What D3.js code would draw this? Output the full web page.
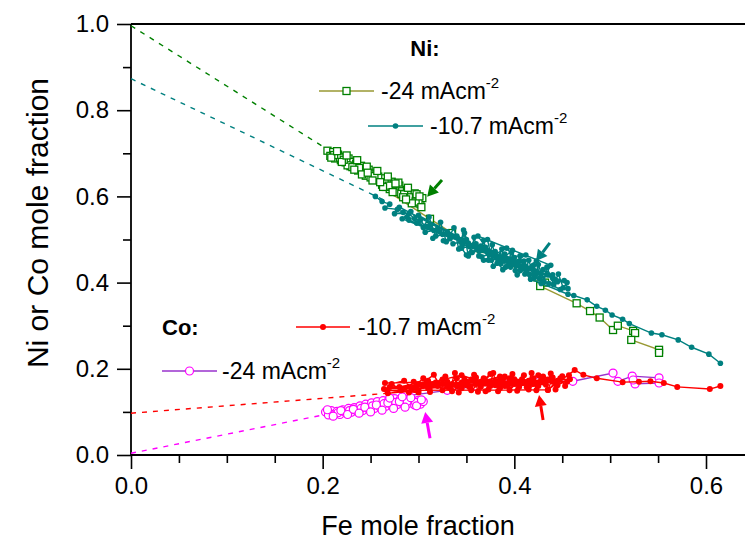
<!DOCTYPE html>
<html>
<head>
<meta charset="utf-8">
<script src="https://cdn.jsdelivr.net/npm/d3@7"></script>
<style>
  html, body { margin: 0; padding: 0; background: #fff; }
  svg { display: block; font-family: "Liberation Sans", Arial, sans-serif; }
</style>
</head>
<body>
<svg id="chart" width="745" height="542"></svg>
<script>
// Ni fraction vs Fe fraction, -24 mA/cm2 (green squares)
const ni24 = [
  [0.205,0.706],[0.208,0.694],[0.211,0.703],[0.213,0.688],[0.216,0.697],[0.219,0.684],[0.221,0.692],
  [0.224,0.679],[0.227,0.688],[0.229,0.670],[0.232,0.680],[0.235,0.676],[0.237,0.660],[0.240,0.671],
  [0.243,0.664],[0.245,0.648],[0.248,0.662],[0.251,0.653],[0.253,0.638],[0.256,0.652],[0.259,0.640],
  [0.262,0.627],[0.264,0.642],[0.267,0.632],[0.270,0.617],[0.272,0.634],[0.275,0.622],[0.278,0.610],
  [0.280,0.625],[0.283,0.612],[0.286,0.600],[0.288,0.615],[0.291,0.603],[0.294,0.590],[0.296,0.607],
  [0.299,0.594],[0.302,0.582],[0.304,0.596],[0.300,0.586],[0.290,0.598],[0.282,0.606],[0.274,0.628],
  [0.266,0.622],[0.258,0.646],[0.250,0.644],[0.242,0.657],[0.234,0.670],[0.226,0.672],[0.218,0.690],
  [0.212,0.696],[0.222,0.685],[0.238,0.666],[0.254,0.647],[0.269,0.625],[0.285,0.605],[0.297,0.588],
  [0.209,0.690],[0.215,0.705],[0.220,0.680],[0.225,0.695],[0.231,0.668],[0.236,0.684],[0.241,0.651],
  [0.246,0.669],[0.252,0.637],[0.257,0.659],[0.263,0.622],[0.268,0.646],[0.273,0.610],[0.279,0.632],
  [0.284,0.598],[0.289,0.620],[0.293,0.584],[0.298,0.605],[0.303,0.575],[0.301,0.600],[0.287,0.593],
  [0.276,0.630],[0.260,0.633],[0.247,0.655],[0.233,0.662],
  [0.312,0.548],[0.335,0.515],[0.365,0.478],[0.398,0.445],[0.424,0.412],[0.432,0.400],[0.427,0.392],
  [0.465,0.352],[0.479,0.334],[0.489,0.319],[0.503,0.290],[0.508,0.300],[0.524,0.288],[0.526,0.283],
  [0.522,0.267],[0.551,0.244],[0.551,0.237]
];

// Ni fraction vs Fe fraction, -10.7 mA/cm2 (teal dots)
const ni107 = [
  [0.255,0.600],[0.262,0.588],[0.270,0.582],[0.265,0.573],[0.278,0.570],[0.284,0.563],[0.275,0.560],
  [0.290,0.560],[0.296,0.548],[0.288,0.552],[0.302,0.545],[0.307,0.530],[0.298,0.538],[0.312,0.534],
  [0.316,0.521],[0.307,0.517],[0.320,0.525],[0.325,0.512],[0.315,0.503],[0.330,0.518],[0.333,0.502],
  [0.326,0.497],[0.340,0.508],[0.344,0.494],[0.336,0.490],[0.350,0.500],[0.353,0.484],[0.345,0.480],
  [0.350,0.464],[0.360,0.490],[0.364,0.474],[0.356,0.470],[0.370,0.482],[0.374,0.466],[0.366,0.460],
  [0.380,0.472],[0.384,0.456],[0.376,0.452],[0.390,0.466],[0.394,0.448],[0.386,0.444],[0.400,0.458],
  [0.404,0.440],[0.396,0.436],[0.410,0.450],[0.414,0.432],[0.406,0.428],[0.420,0.440],[0.424,0.422],
  [0.416,0.418],[0.430,0.430],[0.435,0.418],[0.426,0.410],[0.440,0.418],[0.445,0.402],[0.436,0.398],
  [0.452,0.405],[0.456,0.386],[0.448,0.384],[0.280,0.575],[0.340,0.505],[0.300,0.556],[0.372,0.470],
  [0.322,0.518],[0.398,0.452],[0.346,0.488],[0.428,0.420],[0.362,0.478],[0.410,0.440],[0.385,0.460],
  [0.442,0.408],[0.392,0.455],[0.352,0.492],[0.418,0.432],[0.378,0.462],[0.332,0.510],[0.402,0.445],
  [0.283,0.548],[0.292,0.565],[0.305,0.528],[0.311,0.552],[0.318,0.508],[0.323,0.540],[0.329,0.495],
  [0.337,0.527],[0.342,0.478],[0.348,0.515],[0.355,0.470],[0.358,0.505],[0.363,0.462],[0.368,0.498],
  [0.373,0.452],[0.377,0.488],[0.382,0.445],[0.387,0.478],[0.391,0.436],[0.397,0.470],[0.401,0.428],
  [0.406,0.462],[0.411,0.420],[0.415,0.452],[0.421,0.412],[0.425,0.442],[0.431,0.402],[0.434,0.436],
  [0.441,0.395],[0.446,0.420],[0.451,0.388],[0.455,0.400],[0.290,0.545],[0.360,0.482],[0.310,0.528],
  [0.380,0.465],[0.330,0.512],[0.400,0.446],[0.350,0.494],[0.420,0.428],[0.370,0.476],[0.440,0.410],
  [0.390,0.456],[0.412,0.438],[0.395,0.442],[0.358,0.488],[0.375,0.470],[0.405,0.450],[0.365,0.485],
  [0.385,0.452],[0.422,0.418],[0.345,0.500],[0.347,0.522],[0.352,0.462],[0.372,0.500],[0.378,0.438],
  [0.398,0.475],[0.403,0.418],[0.423,0.450],[0.428,0.398],[0.438,0.440],[0.362,0.508],[0.388,0.430],
  [0.412,0.464],[0.368,0.452],[0.392,0.480],[0.417,0.408],
  [0.456,0.373],[0.462,0.370],[0.476,0.360],[0.486,0.345],[0.495,0.336],[0.502,0.325],[0.513,0.315],
  [0.520,0.305],[0.543,0.283],[0.554,0.279],[0.571,0.267],[0.585,0.250],[0.603,0.234],[0.615,0.213]
];

// Co fraction vs Fe fraction, -24 mA/cm2 (magenta circles)
const co24 = [
  [0.203,0.100],[0.206,0.093],[0.209,0.103],[0.212,0.095],[0.215,0.101],[0.218,0.094],[0.221,0.105],
  [0.224,0.098],[0.227,0.108],[0.230,0.099],[0.233,0.110],[0.236,0.101],[0.239,0.114],[0.242,0.103],
  [0.245,0.118],[0.248,0.106],[0.251,0.121],[0.254,0.108],[0.257,0.124],[0.260,0.111],[0.263,0.126],
  [0.266,0.113],[0.269,0.128],[0.272,0.115],[0.275,0.131],[0.278,0.117],[0.281,0.130],[0.284,0.119],
  [0.287,0.128],[0.290,0.120],[0.293,0.127],[0.296,0.116],[0.299,0.126],[0.302,0.118],[0.305,0.124],
  [0.297,0.122],[0.288,0.124],[0.276,0.122],[0.264,0.119],[0.252,0.114],[0.240,0.108],[0.228,0.103],
  [0.216,0.098],[0.205,0.105],[0.211,0.090],[0.219,0.103],[0.226,0.094],[0.232,0.106],[0.238,0.097],
  [0.244,0.111],[0.250,0.100],[0.256,0.116],[0.262,0.104],[0.268,0.121],[0.274,0.108],[0.280,0.124],
  [0.286,0.111],[0.292,0.133],[0.298,0.114],[0.303,0.128],[0.283,0.135],[0.270,0.132],
  [0.330,0.150],[0.360,0.160],[0.395,0.165],[0.425,0.170],[0.461,0.171],[0.503,0.190],
  [0.508,0.171],[0.523,0.183],[0.551,0.179],[0.551,0.167],[0.526,0.165],[0.524,0.174]
];

// Co fraction vs Fe fraction, -10.7 mA/cm2 (red dots)
const co107 = [
  [0.265,0.167],[0.330,0.170],[0.264,0.153],[0.320,0.160],[0.268,0.143],[0.300,0.150],[0.280,0.158],
  [0.310,0.172],[0.290,0.145],[0.316,0.186],[0.325,0.150],[0.340,0.178],[0.335,0.148],[0.350,0.170],
  [0.345,0.155],[0.360,0.180],[0.355,0.150],[0.375,0.188],[0.365,0.158],[0.380,0.172],[0.370,0.148],
  [0.390,0.182],[0.385,0.155],[0.400,0.176],[0.395,0.150],[0.410,0.185],[0.405,0.158],[0.420,0.178],
  [0.415,0.152],[0.430,0.182],[0.425,0.160],[0.440,0.180],[0.435,0.151],[0.450,0.183],[0.445,0.162],
  [0.458,0.176],[0.300,0.165],[0.340,0.160],[0.310,0.155],[0.360,0.165],[0.330,0.158],[0.380,0.162],
  [0.350,0.162],[0.400,0.165],[0.370,0.168],[0.420,0.165],[0.390,0.160],[0.440,0.170],[0.410,0.170],
  [0.430,0.168],[0.360,0.172],[0.395,0.170],[0.345,0.168],[0.375,0.160],[0.415,0.162],[0.325,0.165],
  [0.385,0.175],[0.298,0.160],[0.282,0.150],[0.272,0.165],[0.285,0.172],[0.293,0.155],[0.305,0.178],
  [0.312,0.146],[0.318,0.168],[0.328,0.182],[0.333,0.155],[0.338,0.190],[0.342,0.145],[0.348,0.176],
  [0.353,0.158],[0.358,0.186],[0.362,0.147],[0.368,0.178],[0.373,0.152],[0.378,0.190],[0.383,0.148],
  [0.388,0.174],[0.393,0.160],[0.398,0.188],[0.403,0.149],[0.408,0.176],[0.413,0.157],[0.418,0.190],
  [0.423,0.150],[0.428,0.175],[0.433,0.163],[0.438,0.189],[0.443,0.152],[0.448,0.178],[0.453,0.160],
  [0.457,0.185],[0.445,0.172],[0.425,0.185],[0.405,0.168],[0.385,0.182],[0.365,0.170],[0.345,0.185],
  [0.325,0.175],[0.305,0.160],[0.295,0.170],[0.315,0.165],[0.335,0.165],[0.355,0.175],[0.375,0.168],
  [0.395,0.178],[0.415,0.172],[0.435,0.175],[0.455,0.170],[0.270,0.158],[0.300,0.145],[0.267,0.150],
  [0.435,0.151],[0.463,0.197],[0.472,0.186],[0.486,0.178],[0.513,0.169],[0.530,0.170],[0.542,0.171],
  [0.556,0.167],[0.570,0.158],[0.604,0.153],[0.615,0.160]
];

// extrapolation lines (dashed), end points
const fitNi24 = [[0.0, 0.996], [0.21, 0.702]];
const fitNi107 = [[0.0, 0.873], [0.27, 0.585]];
const fitCo107 = [[0.0, 0.097], [0.267, 0.143]];
const fitCo24 = [[0.0, 0.004], [0.203, 0.094]];

// arrows [from, to] in data units
const arrowNi24 = [[0.3245, 0.638], [0.309, 0.599]];
const arrowNi107 = [[0.437, 0.492], [0.4226, 0.450]];
const arrowCo24 = [[0.312, 0.039], [0.307, 0.100]];
const arrowCo107 = [[0.430, 0.081], [0.4258, 0.139]];

const xMajor = [0, 0.2, 0.4, 0.6];
const xMinor = [0.05, 0.1, 0.15, 0.25, 0.3, 0.35, 0.45, 0.5, 0.55];
const yMajor = [0, 0.2, 0.4, 0.6, 0.8, 1.0];
const yMinor = [0.1, 0.3, 0.5, 0.7, 0.9];

const plotLeft = 131, plotRight = 745, plotTop = 24, plotBottom = 455;

const svg = d3.select('#chart');
const x = d3.scaleLinear().domain([0, 0.6]).range([plotLeft, 706]);
const y = d3.scaleLinear().domain([0, 1]).range([plotBottom, plotTop]);

const fmt = d3.format('.1f');
const FONT = '"Liberation Sans", Arial, sans-serif';

// axes
const xAxisMajor = svg.append('g')
  .attr('transform', `translate(0,${plotBottom})`)
  .call(d3.axisBottom(x).tickValues(xMajor).tickSize(14).tickPadding(8).tickFormat(fmt));
const xAxisMinor = svg.append('g')
  .attr('transform', `translate(0,${plotBottom})`)
  .call(d3.axisBottom(x).tickValues(xMinor).tickSize(8).tickFormat(''));
const yAxisMajor = svg.append('g')
  .attr('transform', `translate(${plotLeft},0)`)
  .call(d3.axisLeft(y).tickValues(yMajor).tickSize(14).tickPadding(8).tickFormat(fmt));
const yAxisMinor = svg.append('g')
  .attr('transform', `translate(${plotLeft},0)`)
  .call(d3.axisLeft(y).tickValues(yMinor).tickSize(8).tickFormat(''));

[xAxisMajor, xAxisMinor, yAxisMajor, yAxisMinor].forEach(g => {
  g.select('.domain').remove();
  g.selectAll('line').attr('stroke', '#000').attr('stroke-width', 1.6);
  g.selectAll('text').attr('font-size', 24).attr('font-family', FONT).attr('fill', '#000');
});

// frame lines (plot is cropped on the right)
svg.append('line').attr('x1', plotLeft).attr('x2', plotRight).attr('y1', plotBottom).attr('y2', plotBottom)
  .attr('stroke', '#000').attr('stroke-width', 1.8);
svg.append('line').attr('x1', plotLeft).attr('x2', plotRight).attr('y1', plotTop).attr('y2', plotTop)
  .attr('stroke', '#000').attr('stroke-width', 1.8);
svg.append('line').attr('x1', plotLeft).attr('x2', plotLeft).attr('y1', plotTop).attr('y2', plotBottom)
  .attr('stroke', '#000').attr('stroke-width', 1.8);

// axis titles
svg.append('text')
  .attr('x', 418).attr('y', 535)
  .attr('text-anchor', 'middle')
  .attr('font-size', 27).attr('font-family', FONT)
  .text('Fe mole fraction');
svg.append('text')
  .attr('transform', 'rotate(-90)')
  .attr('x', -223).attr('y', 48)
  .attr('text-anchor', 'middle')
  .attr('font-size', 30).attr('font-family', FONT)
  .text('Ni or Co mole fraction');

// dashed extrapolations
const line = d3.line().x(d => x(d[0])).y(d => y(d[1]));
const fits = [
  { data: fitNi24, color: '#008000' },
  { data: fitNi107, color: '#008080' },
  { data: fitCo107, color: '#ff0000' },
  { data: fitCo24, color: '#ff00ff' }
];
fits.forEach(f => {
  svg.append('path').datum(f.data)
    .attr('d', line)
    .attr('fill', 'none')
    .attr('stroke', f.color)
    .attr('stroke-width', 1.4)
    .attr('stroke-dasharray', '5,6');
});

// series
const series = [
  { data: ni24, line: '#999933', marker: 'square', stroke: '#008000', fill: '#fff', size: 7 },
  { data: ni107, line: '#008080', marker: 'dot', stroke: '#008080', fill: '#008080', size: 2.8 },
  { data: co24, line: '#9932cc', marker: 'circle', stroke: '#ff00ff', fill: '#fff', size: 4 },
  { data: co107, line: '#ff0000', marker: 'dot', stroke: '#ff0000', fill: '#ff0000', size: 3 }
];

function drawMarker(g, s, px, py) {
  if (s.marker === 'square') {
    g.append('rect')
      .attr('x', px - s.size / 2).attr('y', py - s.size / 2)
      .attr('width', s.size).attr('height', s.size)
      .attr('fill', s.fill).attr('stroke', s.stroke).attr('stroke-width', 1.3);
  } else if (s.marker === 'circle') {
    g.append('circle')
      .attr('cx', px).attr('cy', py).attr('r', s.size)
      .attr('fill', s.fill).attr('stroke', s.stroke).attr('stroke-width', 1.2);
  } else {
    g.append('circle')
      .attr('cx', px).attr('cy', py).attr('r', s.size)
      .attr('fill', s.fill).attr('stroke', 'none');
  }
}

series.forEach(s => {
  const g = svg.append('g');
  g.append('path').datum(s.data)
    .attr('d', line)
    .attr('fill', 'none')
    .attr('stroke', s.line)
    .attr('stroke-width', 1.4);
  s.data.forEach(d => drawMarker(g, s, x(d[0]), y(d[1])));
});

// arrows
function arrow(a, color) {
  const x1 = x(a[0][0]), y1 = y(a[0][1]), x2 = x(a[1][0]), y2 = y(a[1][1]);
  const ang = Math.atan2(y2 - y1, x2 - x1);
  const hl = 11, hw = 6;
  const bx = x2 - hl * Math.cos(ang), by = y2 - hl * Math.sin(ang);
  svg.append('line')
    .attr('x1', x1).attr('y1', y1).attr('x2', bx).attr('y2', by)
    .attr('stroke', color).attr('stroke-width', 3);
  svg.append('path')
    .attr('d', `M${x2},${y2}L${bx + hw * Math.sin(ang)},${by - hw * Math.cos(ang)}L${bx - hw * Math.sin(ang)},${by + hw * Math.cos(ang)}Z`)
    .attr('fill', color);
}
arrow(arrowNi24, '#008000');
arrow(arrowNi107, '#008080');
arrow(arrowCo24, '#ff00ff');
arrow(arrowCo107, '#ff0000');

// legends
function legendLabel(tx, ty, main) {
  const t = svg.append('text')
    .attr('x', tx).attr('y', ty)
    .attr('font-size', 23).attr('font-family', FONT);
  t.append('tspan').text(main);
  t.append('tspan').attr('dy', -11).attr('font-size', 15).text('-2');
}
function legendItem(s, x1, x2, ly, tx, ty, label) {
  const g = svg.append('g');
  g.append('line').attr('x1', x1).attr('x2', x2).attr('y1', ly).attr('y2', ly)
    .attr('stroke', s.line).attr('stroke-width', 1.5);
  drawMarker(g, s, (x1 + x2) / 2, ly);
  legendLabel(tx, ty, label);
}

svg.append('text').attr('x', 425).attr('y', 56).attr('text-anchor', 'middle')
  .attr('font-size', 22).attr('font-weight', 'bold').attr('font-family', FONT).text('Ni:');
legendItem(series[0], 319, 374, 91, 381, 99, '-24 mAcm');
legendItem(series[1], 368, 423, 126, 430, 134, '-10.7 mAcm');

svg.append('text').attr('x', 162).attr('y', 335)
  .attr('font-size', 22).attr('font-weight', 'bold').attr('font-family', FONT).text('Co:');
legendItem(series[3], 296, 350, 327, 358, 335, '-10.7 mAcm');
legendItem(series[2], 162, 217, 371, 222, 379, '-24 mAcm');
</script>
</body>
</html>
